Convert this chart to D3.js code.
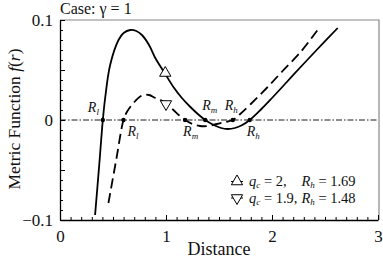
<!DOCTYPE html>
<html>
<head>
<meta charset="utf-8">
<script src="https://cdn.jsdelivr.net/npm/d3@7"></script>
<style>
  body { margin: 0; background: #fff; }
  svg text { font-family: "Liberation Serif", "Times New Roman", serif; fill: #111; }
</style>
</head>
<body>
<div id="chart"></div>
<script>
// solid curve: q_c = 2
var solidX = [0.331, 0.37, 0.404, 0.426, 0.473, 0.552, 0.60, 0.662, 0.72, 0.773, 0.84, 0.899, 0.993, 1.07, 1.15, 1.23, 1.30, 1.37, 1.45, 1.52, 1.58, 1.65, 1.72, 1.79, 1.90, 2.00, 2.14, 2.27, 2.43, 2.62]
var solidY = [-0.095, -0.045, 0, 0.022, 0.055, 0.080, 0.087, 0.090, 0.089, 0.085, 0.075, 0.062, 0.046, 0.033, 0.022, 0.013, 0.006, 0, -0.005, -0.008, -0.009, -0.008, -0.005, 0, 0.011, 0.022, 0.038, 0.053, 0.071, 0.092]
// dashed curve: q_c = 1.9
var dashX = [0.457, 0.53, 0.599, 0.631, 0.67, 0.71, 0.75, 0.788, 0.84, 0.899, 0.95, 0.993, 1.07, 1.12, 1.18, 1.25, 1.32, 1.40, 1.48, 1.56, 1.63, 1.70, 1.80, 1.95, 2.10, 2.27, 2.43]
var dashY = [-0.083, -0.040, 0, 0.008, 0.014, 0.019, 0.023, 0.025, 0.025, 0.022, 0.020, 0.017, 0.010, 0.005, 0, -0.004, -0.006, -0.006, -0.004, -0.002, 0, 0.006, 0.016, 0.032, 0.049, 0.068, 0.090]

// zero crossings (R_l, R_m, R_h)
var rootsSolid = [0.404, 1.37, 1.79]
var rootsDash = [0.599, 1.18, 1.63]
var rootNames = ["l", "m", "h"]

// legend entries
var legendQ = ["2", "1.9"]
var legendRh = ["1.69", "1.48"]
var markerX = [0.993, 1.0]
var markerY = [0.046, 0.017]

var xTicks = [0, 1, 2, 3]
var yTicks = [-0.1, 0, 0.1]
var yTickLabels = ["\u22120.1", "0", "0.1"]

var serif = "'Liberation Serif', 'Times New Roman', serif"
var width = 383, height = 258

var svg = d3.select("#chart").append("svg")
  .attr("width", width)
  .attr("height", height)
  .attr("font-family", serif)

var x = d3.scaleLinear().domain([0, 3]).range([60, 378])
var y = d3.scaleLinear().domain([-0.1, 0.1]).range([220, 20])

// frame: top and right grey
svg.append("path")
  .attr("d", "M" + x(0) + "," + y(0.1) + "H" + (x(3) + 1) + "V" + y(-0.1))
  .attr("fill", "none")
  .attr("stroke", "#888")
  .attr("stroke-width", 1.2)

// minor ticks
var minorX = d3.range(0, 3.001, 0.1)
var minorY = d3.range(-0.1, 0.1001, 0.01)
svg.append("g")
  .attr("transform", "translate(0," + y(-0.1) + ")")
  .call(d3.axisBottom(x).tickValues(minorX).tickSize(-3).tickFormat(""))
  .call(function(g){ g.select(".domain").remove() })
svg.append("g")
  .attr("transform", "translate(" + x(0) + ",0)")
  .call(d3.axisLeft(y).tickValues(minorY).tickSize(-3).tickFormat(""))
  .call(function(g){ g.select(".domain").remove() })
// mid ticks at +-0.05
svg.append("g")
  .attr("transform", "translate(" + x(0) + ",0)")
  .call(d3.axisLeft(y).tickValues([-0.05, 0.05]).tickSize(-5).tickFormat(""))
  .call(function(g){ g.select(".domain").remove() })

// major axes
svg.append("g")
  .attr("transform", "translate(0," + y(-0.1) + ")")
  .call(d3.axisBottom(x).tickValues(xTicks).tickSize(-5).tickSizeOuter(0).tickPadding(10).tickFormat(d3.format("d")))
svg.append("g")
  .attr("transform", "translate(" + x(0) + ",0)")
  .call(d3.axisLeft(y).tickValues(yTicks).tickSize(-5).tickSizeOuter(0).tickPadding(7)
    .tickFormat(function(d, i){ return yTickLabels[i] }))
svg.selectAll("g").attr("font-family", serif)
svg.selectAll(".tick text")
  .style("font-size", "17px")
svg.selectAll(".domain").attr("stroke-width", 1.3)
svg.selectAll(".tick line").attr("stroke-width", 1)

// zero line
svg.append("line")
  .attr("x1", x(0)).attr("x2", x(3))
  .attr("y1", y(0)).attr("y2", y(0))
  .attr("stroke", "#000")
  .attr("stroke-width", 0.9)
  .attr("stroke-dasharray", "6,2,1.5,2")

var line = d3.line()
  .x(function(d){ return x(d[0]) })
  .y(function(d){ return y(d[1]) })
  .curve(d3.curveCatmullRom.alpha(0.5))

svg.append("path")
  .datum(d3.zip(solidX, solidY))
  .attr("d", line)
  .attr("fill", "none")
  .attr("stroke", "#000")
  .attr("stroke-width", 1.8)

svg.append("path")
  .datum(d3.zip(dashX, dashY))
  .attr("d", line)
  .attr("fill", "none")
  .attr("stroke", "#000")
  .attr("stroke-width", 1.8)
  .attr("stroke-dasharray", "10,5")

// triangles on curves
var triUp = d3.symbol().type(d3.symbolTriangle).size(55)
function tri(g, cx, cy, down) {
  g.append("path")
    .attr("d", triUp)
    .attr("transform", "translate(" + cx + "," + cy + ")" + (down ? " rotate(180)" : ""))
    .attr("fill", "#fff")
    .attr("stroke", "#000")
    .attr("stroke-width", 1)
}
tri(svg, x(markerX[0]), y(markerY[0]) - 1, false)
tri(svg, x(markerX[1]), y(markerY[1]) + 1, true)

// roots
svg.selectAll(".root")
  .data(rootsSolid.concat(rootsDash))
  .enter().append("circle")
  .attr("cx", function(d){ return x(d) })
  .attr("cy", y(0))
  .attr("r", 2.2)
  .attr("fill", "#000")

function rLabel(px, py, sub) {
  var t = svg.append("text")
    .attr("x", px).attr("y", py)
    .style("font-size", "14px")
    .style("font-style", "italic")
  t.append("tspan").text("R")
  t.append("tspan").attr("dy", 3).style("font-size", "9px").text(sub)
}
// solid labels
rLabel(x(rootsSolid[0]) - 15, 112, rootNames[0])
rLabel(x(rootsSolid[1]) - 3, 110, rootNames[1])
rLabel(x(rootsSolid[2]) - 3, 136, rootNames[2])
// dashed labels
rLabel(x(rootsDash[0]) + 4, 136, rootNames[0])
rLabel(x(rootsDash[1]) - 2, 136, rootNames[1])
rLabel(x(rootsDash[2]) - 8, 110, rootNames[2])

// title
svg.append("text")
  .attr("x", 60).attr("y", 14)
  .style("font-size", "16px")
  .text("Case: \u03b3 = 1")

// axis titles
svg.append("text")
  .attr("x", 219).attr("y", 255)
  .attr("text-anchor", "middle")
  .style("font-size", "18px")
  .text("Distance")

var yl = svg.append("text")
  .attr("transform", "translate(20,119) rotate(-90)")
  .attr("text-anchor", "middle")
  .style("font-size", "17.5px")
yl.append("tspan").text("Metric Function ")
yl.append("tspan").style("font-style", "italic").text("f")
yl.append("tspan").text("(")
yl.append("tspan").style("font-style", "italic").text("r")
yl.append("tspan").text(")")

// legend
var legY = [181.5, 198]
var qTexts = []
legendQ.forEach(function(q, i) {
  var cy = legY[i]
  svg.append("line")
    .attr("x1", 231).attr("x2", 243)
    .attr("y1", cy).attr("y2", cy)
    .attr("stroke", "#000")
  tri(svg, 237, cy, i == 1)
  var t = svg.append("text")
    .attr("x", 249).attr("y", cy + 4.5)
    .style("font-size", "14.5px")
  t.append("tspan").style("font-style", "italic").text("q")
  t.append("tspan").attr("dy", 2).style("font-size", "9px").style("font-style", "italic").text("c")
  t.append("tspan").attr("dy", -2).text(" = " + q + ",")
  qTexts.push(t)
})
// R_h column lines up in both rows
var rCol = 249 + 4 + d3.max(qTexts, function(t){ return t.node().getComputedTextLength() })
legendRh.forEach(function(r, i) {
  var t = svg.append("text")
    .attr("x", rCol).attr("y", legY[i] + 4.5)
    .style("font-size", "14.5px")
  t.append("tspan").style("font-style", "italic").text("R")
  t.append("tspan").attr("dy", 2).style("font-size", "9px").style("font-style", "italic").text("h")
  t.append("tspan").attr("dy", -2).text(" = " + r)
})
</script>
</body>
</html>
